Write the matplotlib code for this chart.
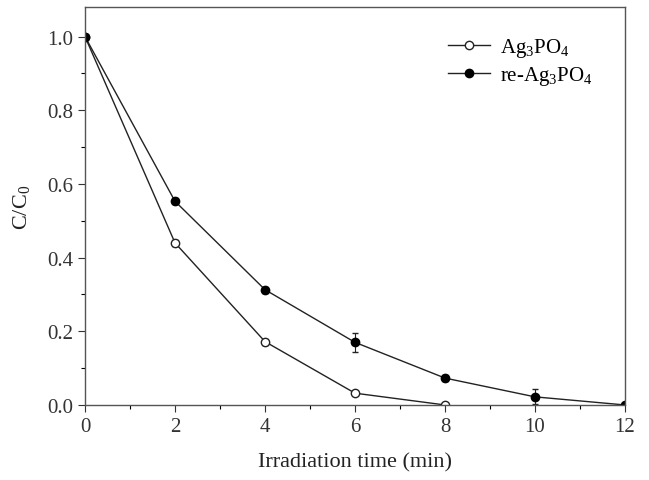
import matplotlib
matplotlib.use("Agg")
import matplotlib.pyplot as plt
from matplotlib.ticker import MultipleLocator
from matplotlib.lines import Line2D

plt.rcParams['font.family'] = ['Liberation Serif', 'DejaVu Serif']
plt.rcParams['mathtext.fontset'] = 'custom'
plt.rcParams['mathtext.rm'] = 'Liberation Serif'

time_a = [0, 2, 4, 6, 8]
ag3po4 = [1.0, 0.44, 0.172, 0.032, 0.0]
ag3po4_err = [0.0, 0.008, 0.008, 0.006, 0.0]

time_b = [0, 2, 4, 6, 8, 10, 12]
re_ag3po4 = [1.0, 0.553, 0.313, 0.17, 0.073, 0.022, 0.0]
re_ag3po4_err = [0.0, 0.008, 0.008, 0.025, 0.008, 0.02, 0.0]

labels = [r'Ag$_3$PO$_4$', r're-Ag$_3$PO$_4$']

fig = plt.figure(figsize=(6.49, 4.81), dpi=100)
ax = fig.add_axes([0.131, 0.156, 0.832, 0.827])

ax.errorbar(time_a, ag3po4, yerr=ag3po4_err, color='#222222', lw=1.0,
            marker='o', ms=6, mfc='white', mec='#222222', mew=1.0,
            capsize=2.5, elinewidth=0.8)
ax.errorbar(time_b, re_ag3po4, yerr=re_ag3po4_err, color='#222222', lw=1.0,
            marker='o', ms=6, mfc='black', mec='black', mew=1.0,
            capsize=2.5, elinewidth=0.8)

ax.set_xlim(0, 12)
ax.set_ylim(0, 1.08)
ax.xaxis.set_major_locator(MultipleLocator(2))
ax.xaxis.set_minor_locator(MultipleLocator(1))
ax.yaxis.set_major_locator(MultipleLocator(0.2))
ax.yaxis.set_minor_locator(MultipleLocator(0.1))
ax.yaxis.set_major_formatter(matplotlib.ticker.FormatStrFormatter('%.1f'))
ax.tick_params(which='major', direction='out', length=5, width=0.8, labelsize=15, colors='#333333')
ax.tick_params(which='minor', direction='out', length=3, width=0.8)
for s in ax.spines.values():
    s.set_color('#555555')
    s.set_linewidth(1.0)

ax.set_xlabel('Irradiation time (min)', fontsize=16, color='#222222', labelpad=12)
ax.set_ylabel(r'C/C$_0$', fontsize=16, color='#222222', labelpad=10)

handles = [
    Line2D([], [], color='#222222', lw=1.0, marker='o', ms=6, mfc='white', mec='#222222'),
    Line2D([], [], color='#222222', lw=1.0, marker='o', ms=6, mfc='black', mec='black'),
]
leg = ax.legend(handles, labels, loc='upper right', bbox_to_anchor=(0.975, 0.975), frameon=False,
                fontsize=15, handlelength=2.0, handletextpad=0.5, labelspacing=0.25)

fig.savefig('out.png', dpi=100)
